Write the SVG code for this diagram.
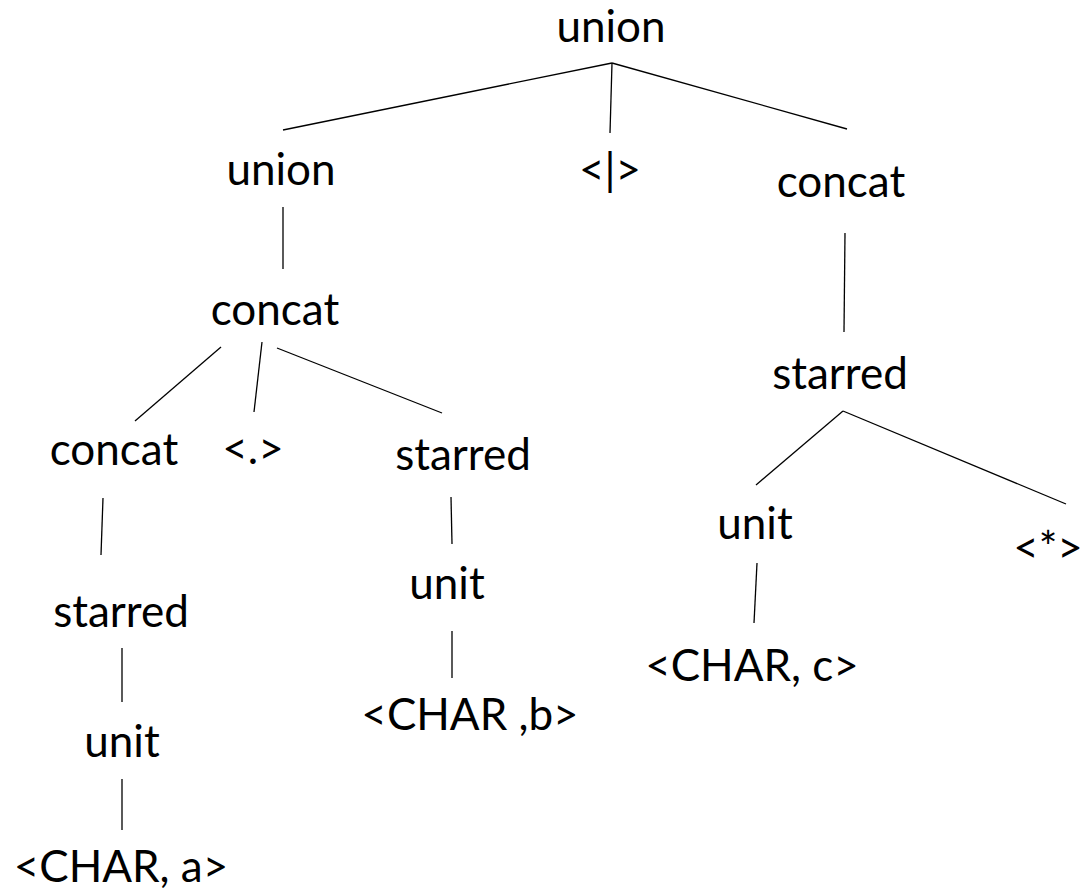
<svg xmlns="http://www.w3.org/2000/svg" width="1089" height="891" viewBox="0 0 1089 891">
<style>
text{font-family:Lato,"Liberation Sans",sans-serif;font-size:44px;fill:#000;text-anchor:middle}
.e line{stroke:#000;stroke-width:1.3}
</style>
<rect width="1089" height="891" fill="#fff"/>
<g class="e" id="edges">
<line x1="612" y1="63" x2="283" y2="130"/>
<line x1="612" y1="63" x2="610" y2="133"/>
<line x1="612" y1="63" x2="847" y2="129"/>
<line x1="283" y1="207" x2="283" y2="269"/>
<line x1="845" y1="233" x2="844" y2="332"/>
<line x1="221" y1="347" x2="135" y2="421"/>
<line x1="262" y1="342" x2="254" y2="412"/>
<line x1="277" y1="348" x2="442" y2="413"/>
<line x1="103" y1="498" x2="101" y2="555"/>
<line x1="451" y1="497" x2="452" y2="544"/>
<line x1="843" y1="411" x2="756" y2="485"/>
<line x1="843" y1="411" x2="1066" y2="504"/>
<line x1="122" y1="648" x2="122" y2="702"/>
<line x1="452" y1="631" x2="452" y2="678"/>
<line x1="757" y1="563" x2="754" y2="623"/>
<line x1="122" y1="779" x2="122" y2="830"/>
</g>
<g id="n1"><text x="611" y="42">union</text></g>
<g id="n2"><text x="281" y="185">union</text></g>
<g id="n3"><text x="610" y="185">&lt;|&gt;</text></g>
<g id="n4"><text x="841" y="197">concat</text></g>
<g id="n5"><text x="275" y="325">concat</text></g>
<g id="n6"><text x="114" y="465">concat</text></g>
<g id="n7"><text x="253" y="464">&lt;.&gt;</text></g>
<g id="n8"><text x="463" y="470">starred</text></g>
<g id="n9"><text x="121" y="627">starred</text></g>
<g id="n10"><text x="447" y="599">unit</text></g>
<g id="n11"><text x="122" y="757">unit</text></g>
<g id="n12"><text x="470" y="730">&lt;CHAR ,b&gt;</text></g>
<g id="n13"><text x="121" y="882">&lt;CHAR, a&gt;</text></g>
<g id="n14"><text x="840" y="389">starred</text></g>
<g id="n15"><text x="755" y="539">unit</text></g>
<g id="n16"><text x="1048" y="563">&lt;*&gt;</text></g>
<g id="n17"><text x="752" y="681">&lt;CHAR, c&gt;</text></g>
</svg>
